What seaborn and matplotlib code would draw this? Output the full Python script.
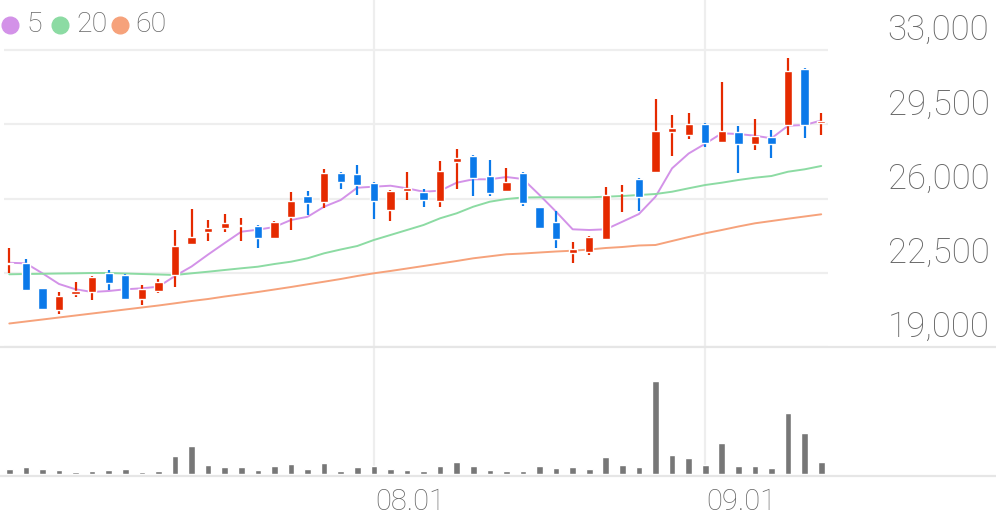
import matplotlib
matplotlib.use("Agg")
import matplotlib.pyplot as plt
import matplotlib.transforms as mtransforms
from matplotlib.lines import Line2D
import pandas as pd
import seaborn as sns

# daily candles (won)
opens = [22900, 22950, 21800, 20750, 21500, 21600, 22500, 22400, 21250, 21650,
         22400, 23850, 24400, 24600, 24700, 24700, 24150, 25150, 26100, 25850,
         27200, 27150, 26750, 25450, 26350, 26300, 25900, 27700, 28000, 27050,
         26350, 27200, 25600, 24900, 23450, 23500, 24100, 26250, 26900, 27250,
         29150, 29000, 29500, 28650, 29150, 28550, 28900, 29450, 32100, 29550]
highs = [23650, 23150, 21800, 21600, 22050, 22350, 22650, 22450, 21900, 22200,
         24500, 25500, 25000, 25250, 25100, 24750, 24950, 26300, 26350, 27400,
         27250, 27600, 26800, 26400, 27250, 26450, 27750, 28350, 28050, 27800,
         27450, 27250, 25600, 25400, 23950, 24250, 26550, 26650, 26950, 30700,
         29950, 30050, 29550, 31500, 29400, 29750, 29250, 32600, 32150, 30050]
lows = [22500, 21700, 20800, 20550, 21350, 21200, 21700, 21250, 21000, 21550,
        21850, 23850, 24000, 24400, 24000, 23650, 24100, 24500, 25200, 25550,
        26450, 26150, 25050, 24950, 25950, 25600, 25600, 26450, 26100, 26100,
        26350, 25650, 24600, 23650, 22950, 23350, 24050, 25350, 25400, 27200,
        28000, 28800, 28450, 28600, 27200, 28300, 27900, 29000, 28850, 29000]
closes = [22950, 21700, 20800, 21400, 21650, 22300, 22000, 21250, 21750, 22050,
          23750, 24200, 24600, 24850, 24750, 24150, 24900, 25900, 25800, 27200,
          26800, 26650, 25900, 26350, 26500, 25950, 27300, 27900, 26950, 26250,
          26800, 25800, 24600, 24100, 23600, 24200, 26150, 26300, 26050, 29200,
          29300, 29500, 28600, 29200, 28550, 28950, 28550, 32000, 29450, 29650]
volume = [53, 70, 53, 43, 20, 33, 43, 53, 17, 33,
          183, 280, 87, 67, 70, 43, 77, 103, 53, 107,
          33, 70, 80, 47, 43, 33, 80, 123, 83, 43,
          33, 33, 80, 60, 73, 53, 170, 90, 70, 930,
          193, 160, 90, 313, 80, 77, 57, 613, 407, 117]

# moving averages as drawn
ma5 = [22970, 22945, 22474, 21970, 21720, 21593, 21640, 21720, 21767, 21842,
       22347, 22795, 23360, 23902, 24435, 24529, 24657, 24987, 25137, 25613,
       25929, 26509, 26556, 26603, 26481, 26320, 26368, 26745, 26905, 26905,
       27013, 26919, 26165, 25378, 24548, 24515, 24548, 24906, 25269, 26085,
       27423, 28121, 28583, 29073, 29040, 28960, 28838, 29432, 29465, 29677]
ma20 = [22427, 22441, 22451, 22465, 22474, 22488, 22488, 22465, 22441, 22418,
        22394, 22474, 22549, 22630, 22710, 22785, 22912, 23021, 23181, 23417,
        23596, 23761, 24044, 24279, 24515, 24751, 25067, 25302, 25613, 25849,
        25976, 26047, 26057, 26057, 26057, 26057, 26085, 26118, 26165, 26212,
        26320, 26481, 26636, 26745, 26872, 26980, 27061, 27263, 27376, 27532]
ma60 = [20108, 20202, 20296, 20391, 20485, 20579, 20673, 20768, 20862, 20956,
        21060, 21168, 21263, 21380, 21484, 21593, 21710, 21828, 21955, 22078,
        22205, 22347, 22474, 22583, 22700, 22818, 22936, 23054, 23181, 23275,
        23370, 23407, 23455, 23502, 23539, 23596, 23667, 23714, 23785, 23808,
        23997, 24185, 24360, 24515, 24680, 24831, 24939, 25048, 25152, 25255]

xtick_pos = [22, 42]
xtick_labels = ["08.01", "09.01"]
price_ticks = [19000, 22500, 26000, 29500, 33000]
ma_names = ["5", "20", "60"]
ma_colors = ["#d392e8", "#8cdba3", "#f6a27b"]

sns.set_theme(style="white")
plt.rcParams["font.family"] = ["Roboto", "DejaVu Sans"]
plt.rcParams["font.weight"] = "light"

df = pd.DataFrame({"day": range(len(closes)), "open": opens, "high": highs,
                   "low": lows, "close": closes, "volume": volume,
                   "ma5": ma5, "ma20": ma20, "ma60": ma60})
df["up"] = df["close"] >= df["open"]
colors = ["#e52a00" if u else "#0b79e9" for u in df["up"]]

W, H = 996, 519
fig = plt.figure(figsize=(W / 100, H / 100), dpi=100)
ax = fig.add_axes([4 / W, 1 - 347 / H, 824 / W, 347 / H])
axv = fig.add_axes([4 / W, 1 - 474 / H, 824 / W, 127 / H])

text_col = "#666666"
grid_col = "#eeeeee"

#-----Moving averages-----
for col, c in zip(["ma5", "ma20", "ma60"], ma_colors):
    sns.lineplot(x="day", y=col, data=df, ax=ax, color=c, lw=1.4, zorder=2)

#-----Candles-----
ax.vlines(df["day"], df["low"], df["high"], colors=colors, lw=1.6, zorder=3)
ax.bar(df["day"], (df["close"] - df["open"]).abs(),
       bottom=df[["open", "close"]].min(axis=1), width=0.5,
       color=colors, zorder=4)

ax.set_xlim(-0.32, 49.41)
ax.set_ylim(19000, 33000 + 50 * 14000 / 297)
ax.set_xticks(xtick_pos)
ax.set_yticks(price_ticks)
ax.set_yticklabels([f"{t:,}" for t in price_ticks])
ax.yaxis.tick_right()
ax.tick_params(axis="y", length=0, pad=43, labelsize=25, labelcolor=text_col)
ax.tick_params(axis="x", length=0, labelbottom=False)
ax.grid(True, color=grid_col, lw=1.6)
ax.set_axisbelow(True)
ax.set_xlabel("")
ax.set_ylabel("")
for s in ax.spines.values():
    s.set_visible(False)
shift = mtransforms.ScaledTranslation(0, 23 / 100, fig.dpi_scale_trans)
for lab in ax.get_yticklabels():
    lab.set_transform(lab.get_transform() + shift)

#-----Volume-----
sns.barplot(x="day", y="volume", data=df, ax=axv, native_scale=True,
            color="#777777", saturation=1, width=0.4, zorder=3)
axv.set_xlim(-0.32, 49.41)
axv.set_ylim(0, max(volume) * 127 / 93)
axv.set_yticks([])
axv.set_xticks(xtick_pos)
axv.set_xticklabels(xtick_labels)
axv.tick_params(axis="x", length=0, pad=10, labelsize=21, labelcolor=text_col)
axv.grid(True, axis="x", color=grid_col, lw=1.6)
axv.set_axisbelow(True)
axv.set_xlabel("")
axv.set_ylabel("")
for s in axv.spines.values():
    s.set_visible(False)
xshift = mtransforms.ScaledTranslation(1 / 100, 0, fig.dpi_scale_trans)
for lab in axv.get_xticklabels():
    lab.set_horizontalalignment("left")
    lab.set_transform(lab.get_transform() + xshift)

# separators spanning the full width
for yy in [347, 475.5]:
    fig.add_artist(Line2D([0, 1], [1 - yy / H, 1 - yy / H],
                          transform=fig.transFigure, color="#e6e6e6", lw=1.6))

#-----Legend-----
for name, c, xc in zip(ma_names, ma_colors, [10, 60, 119.5]):
    fig.add_artist(Line2D([xc / W], [1 - 25 / H], marker="o", ls="",
                          color=c, markersize=12, transform=fig.transFigure))
    fig.text((xc + 16) / W, 1 - 25 / H, name, ha="left", va="center",
             fontsize=20.5, color=text_col)

fig.savefig("out.png", dpi=100)
